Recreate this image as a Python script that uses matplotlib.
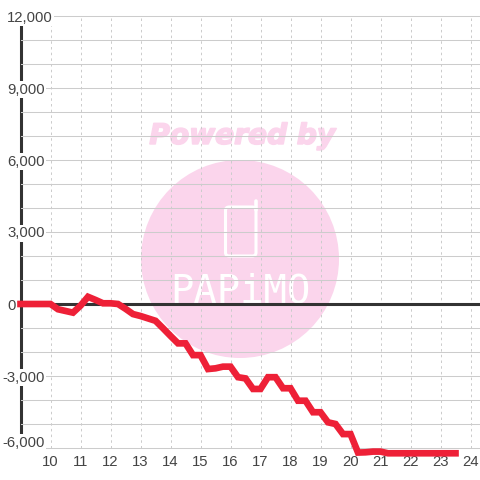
import matplotlib
matplotlib.use("Agg")
import matplotlib.pyplot as plt
import matplotlib.patheffects as pe
from matplotlib.patches import Ellipse, FancyBboxPatch
from matplotlib.transforms import ScaledTranslation
from matplotlib.lines import Line2D

hours = [9 + i * 0.25 for i in range(59)]
values = [0, 0, 0, 0, 0, -220, -290, -360, -70, 300, 170, 30, 30, 0, -200, -420,
          -500, -600, -700, -1010, -1330, -1640, -1640, -2130, -2130, -2710, -2680,
          -2610, -2610, -3050, -3100, -3540, -3540, -3050, -3050, -3510, -3510,
          -4030, -4030, -4510, -4510, -4930, -5000, -5420, -5420, -6190, -6180,
          -6150, -6150, -6220, -6220, -6220, -6220, -6220, -6220, -6220, -6220,
          -6220, -6220]
x_ticks = list(range(10, 25))
y_major = [-6000, -3000, 0, 3000, 6000, 9000, 12000]
y_minor = [-5000, -4000, -2000, -1000, 1000, 2000, 4000, 5000, 7000, 8000, 10000, 11000]
y_labels = ["-6,000", "-3,000", "0", "3,000", "6,000", "9,000", "12,000"]

PINK = "#FBD5EC"
GRID = "#CCCCCC"
DARK = "#333333"
TEXT = "#444444"
RED = "#EE2037"

plt.rcParams["font.family"] = ["Liberation Sans", "DejaVu Sans"]
fig = plt.figure(figsize=(4.8, 4.8), dpi=100, facecolor="white")
ax = fig.add_axes([20.5 / 480, 32 / 480, 459.5 / 480, 432 / 480])
ax.set_xlim(9, 9 + 459.5 / 30)
ax.set_ylim(-6000, 12000)
ax.set_axisbelow("line")

# watermark
ax.add_patch(Ellipse((0.4777, 0.4375), 198 / 459.5, 198 / 432, transform=ax.transAxes,
                     fc=PINK, ec="none", zorder=1))
ax.text(0.4821, 0.7225, "Powered by", transform=ax.transAxes, ha="center", va="center",
        family="DejaVu Sans", weight="bold", style="italic", fontsize=20.2, color=PINK, zorder=1,
        path_effects=[pe.withStroke(linewidth=1.2, foreground=PINK)])
ax.text(0.4777, 0.362, "PAPiMO", transform=ax.transAxes, ha="center", va="center",
        family="DejaVu Sans Mono", fontsize=28, color="white", zorder=1.1)
px = lambda xp, yp: ((xp - 20.5) / 459.5, (448 - yp) / 432)
x0, y0 = px(225.5, 256)
x1, y1 = px(256, 207)
ax.add_patch(FancyBboxPatch((x0, y0), x1 - x0, y1 - y0, boxstyle="round,pad=0,rounding_size=0.008",
                            transform=ax.transAxes, fc="none", ec="white", lw=2.2, zorder=1.1))
ax.add_line(Line2D(*zip(px(256, 210), px(256, 201)), transform=ax.transAxes,
                   color="white", lw=2.6, solid_capstyle="round", zorder=1.1))

# axes
for s in ("top", "right", "bottom"):
    ax.spines[s].set_visible(False)
sp = ax.spines["left"]
sp.set_color(DARK)
sp.set_linewidth(2.2)
sp.set_bounds(-6000, 11670)
sp.set_zorder(1.4)

ax.set_xticks(x_ticks)
ax.set_yticks(y_major)
ax.set_yticks(y_minor, minor=True)
ax.set_yticklabels(y_labels)
ax.tick_params(axis="both", which="both", length=0)
ax.tick_params(axis="x", labelsize=10.7, labelcolor=TEXT, pad=5.2)
ax.tick_params(axis="y", labelsize=10.7, labelcolor=TEXT, pad=9.7)
ax.grid(axis="y", which="both", color=GRID, lw=0.75)
ax.grid(axis="x", which="major", color=GRID, lw=0.72, linestyle=(0, (2.5, 3.2)))
for tick in ax.yaxis.get_major_ticks() + ax.yaxis.get_minor_ticks():
    tick.gridline.set_clip_on(False)

for lab, val, txt in zip(ax.get_yticklabels(), y_major, y_labels):
    lab.set_ha("left")
    dx = -4.8 / 100 if val < 0 else 0
    dy = 6.5 / 100 if val == -6000 else 0
    lab.set_transform(lab.get_transform() + ScaledTranslation(dx, dy, fig.dpi_scale_trans))
    lab.set_bbox(dict(fc="white", ec="none", pad=1.2))

ax.axhline(0, color=DARK, lw=2.2, zorder=1.55)
ax.plot(hours, values, color=RED, lw=4.8, solid_joinstyle="miter", solid_capstyle="projecting",
        clip_on=False, zorder=2)

fig.savefig("out.png", dpi=100, facecolor="white")
